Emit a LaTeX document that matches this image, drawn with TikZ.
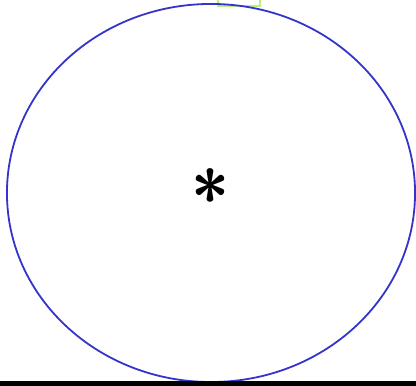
\documentclass[tikz,border=0pt]{standalone}
\usepackage{xcolor}
\usetikzlibrary{positioning,shapes.geometric}
\definecolor{ringblue}{RGB}{52,52,204}
\definecolor{tabgreen}{RGB}{185,240,130}
\begin{document}
\begin{tikzpicture}[x=0.025cm, y=0.025cm,
  ring/.style={draw=ringblue, ellipse, line width=0.45mm,
               minimum width=10.2cm, minimum height=9.45cm, inner sep=0pt},
  star/.style={font=\fontsize{54}{56}\fontseries{b}\selectfont, inner sep=0pt},
  tab/.style={draw=tabgreen, line width=0.4mm},
  floor/.style={fill=black},
]
\useasboundingbox (0,0) rectangle (416,386);
\begin{scope}
\clip (0,0) rectangle (416,386);
% top tab, mostly off the page
\draw[tab] (218,380) rectangle (260,400);
% outer ring
\node[ring] (cell) at (211,193) {};
\node[star] (mark) at (210.5,189) {*};
% bottom bar
\fill[floor] (0,0) rectangle (416,4.5);
\end{scope}
\end{tikzpicture}
\end{document}
